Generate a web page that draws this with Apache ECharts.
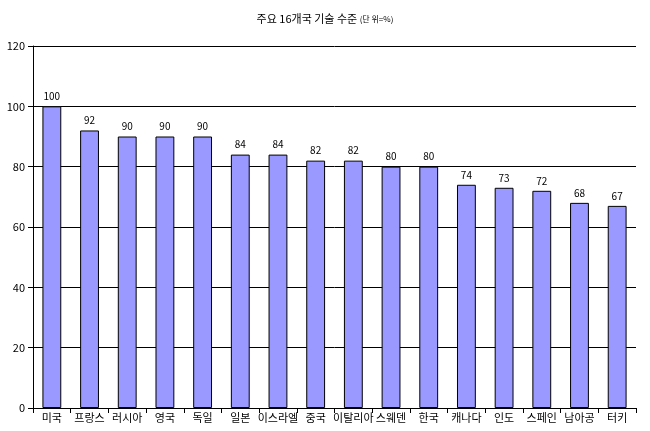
<!DOCTYPE html><html><head><meta charset="utf-8"><script src="https://cdn.jsdelivr.net/npm/echarts@6/dist/echarts.min.js"></script></head><body style="margin:0;background:#fff"><div id="c" style="width:650px;height:431px"></div><script>
const categories=['미국','프랑스','러시아','영국','독일','일본','이스라엘','중국','이탈리아','스웨덴','한국','캐나다','인도','스페인','남아공','터키'];
const values=[100,92,90,90,90,84,84,82,82,80,80,74,73,72,68,67];
const yTicks=[0,20,40,60,80,100,120];
const f='"Noto Sans CJK KR", sans-serif';
echarts.init(document.getElementById('c')).setOption({
animation:false,
title:{text:'{a|주요 16개국 기술 수준 }{b|(단 위=%)}',left:'center',top:8,textStyle:{fontWeight:'normal',rich:{a:{fontSize:11,fontFamily:f,color:'#000',fontWeight:'normal'},b:{fontSize:8,fontFamily:f,color:'#000',fontWeight:'normal'}}}},
grid:{left:33,right:14,top:46,bottom:23},
xAxis:{type:'category',data:categories,axisLine:{lineStyle:{color:'#000'}},axisTick:{show:true,lineStyle:{color:'#000'}},axisLabel:{color:'#000',fontFamily:f,fontSize:11,interval:0,margin:4}},
yAxis:{type:'value',min:yTicks[0],max:yTicks[yTicks.length-1],interval:20,axisLine:{show:true,lineStyle:{color:'#000'}},axisTick:{show:true,lineStyle:{color:'#000'}},splitLine:{lineStyle:{color:'#000'}},axisLabel:{color:'#000',fontFamily:f,fontSize:11}},
series:[{type:'bar',data:values,barWidth:'50%',itemStyle:{color:'#9999FF',borderColor:'#000',borderWidth:1},label:{show:true,position:'top',color:'#000',fontFamily:f,fontSize:10}}]
});
</script></body></html>
